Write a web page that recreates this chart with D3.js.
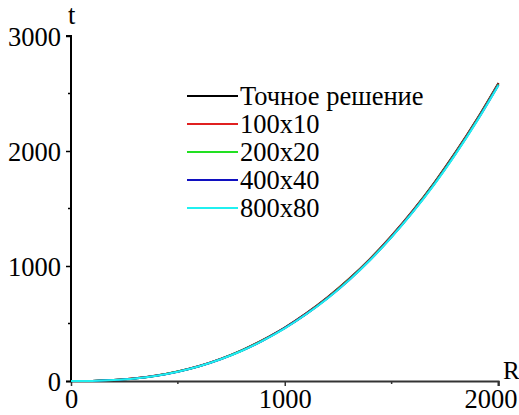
<!DOCTYPE html>
<html>
<head>
<meta charset="utf-8">
<script src="https://cdn.jsdelivr.net/npm/d3@7"></script>
<style>
  body { margin: 0; background: #fff; }
  svg { display: block; font-family: "Liberation Serif", "Times New Roman", serif; }
</style>
</head>
<body>
<svg id="chart" width="519" height="415"></svg>
<script>
// R values (x) shared by all series
const rValues = [0, 100, 200, 300, 400, 500, 600, 700, 800, 900, 1000,
                 1100, 1200, 1300, 1400, 1500, 1600, 1700, 1800, 1900, 2000];

// t values
const exact   = [0, 1, 8, 23, 47, 83, 130, 192, 268, 360, 465, 588, 728, 886, 1064, 1264, 1484, 1726, 1992, 2280, 2592];
const s100x10 = [0, 1, 8, 23, 47, 82, 130, 191, 267, 358, 463, 586, 726, 884, 1061, 1261, 1481, 1722, 1988, 2276, 2587];
const s200x20 = [0, 1, 8, 22, 46, 82, 129, 190, 265, 356, 461, 583, 722, 880, 1057, 1256, 1476, 1717, 1982, 2270, 2580];
const s400x40 = [0, 1, 8, 22, 46, 81, 128, 189, 264, 354, 459, 581, 720, 877, 1054, 1253, 1472, 1713, 1978, 2265, 2575];
const s800x80 = [0, 1, 8, 22, 46, 81, 128, 189, 263, 353, 458, 580, 718, 875, 1052, 1251, 1470, 1710, 1975, 2262, 2572];

const seriesNames  = ["Точное решение", "100x10", "200x20", "400x40", "800x80"];
const seriesValues = [exact, s100x10, s200x20, s400x40, s800x80];
const seriesColors = ["#000000", "#e02020", "#22e022", "#1010c0", "#20f0f0"];

const xTicks = [0, 1000, 2000];
const xMinor = [500, 1500];
const yTicks = [0, 1000, 2000, 3000];
const yMinor = [500, 1500, 2500];

const fontSize = 26.5;
const svg = d3.select("#chart");

// scales
const x = d3.scaleLinear().domain([0, 2000]).range([71, 498.5]);
const y = d3.scaleLinear().domain([0, 3000]).range([381, 36]);

// X axis
const xAxis = svg.append("g")
    .attr("transform", `translate(0,${y(0)})`)
    .call(d3.axisBottom(x).tickValues(xTicks).tickSize(5).tickFormat(d3.format("d")));
xAxis.select(".domain").attr("d", `M66,0.5H${x(2000)}V5`).attr("stroke", "#333").attr("stroke-width", 2);
xAxis.selectAll(".tick line").attr("stroke", "#333").attr("stroke-width", 1.5);
xAxis.selectAll(".tick text")
    .attr("font-family", "Liberation Serif").attr("font-size", fontSize).attr("fill", "#000")
    .attr("dy", "0.95em").attr("y", 2)
    .attr("dx", d => d === 2000 ? -8 : 0);

svg.append("g").selectAll("line")
    .data(xMinor).enter().append("line")
    .attr("x1", d => x(d)).attr("x2", d => x(d))
    .attr("y1", y(0)).attr("y2", y(0) + 3)
    .attr("stroke", "#333").attr("stroke-width", 1.5);

// Y axis
const yAxis = svg.append("g")
    .attr("transform", `translate(${x(0)},0)`)
    .call(d3.axisLeft(y).tickValues(yTicks).tickSize(5).tickFormat(d3.format("d")));
yAxis.select(".domain").attr("d", `M-5,${y(3000)}H0V${y(0)}`).attr("stroke", "#000").attr("stroke-width", 2);
yAxis.selectAll(".tick line").attr("stroke", "#000").attr("stroke-width", 1.5);
yAxis.selectAll(".tick text")
    .attr("font-family", "Liberation Serif").attr("font-size", fontSize).attr("fill", "#000")
    .attr("x", -10).attr("dy", "0.34em");

svg.append("g").selectAll("line")
    .data(yMinor).enter().append("line")
    .attr("x1", x(0) - 3).attr("x2", x(0))
    .attr("y1", d => y(d)).attr("y2", d => y(d))
    .attr("stroke", "#000").attr("stroke-width", 1.5);

// axis labels
svg.append("text").attr("x", 68).attr("y", 24).attr("font-size", fontSize).text("t");
svg.append("text").attr("x", 503).attr("y", 379).attr("font-size", 25).text("R");

// curves
const line = d3.line()
    .x((d, i) => x(rValues[i]))
    .y(d => y(d))
    .curve(d3.curveMonotoneX);

svg.append("g").selectAll("path")
    .data(seriesValues).enter().append("path")
    .attr("d", d => line(d))
    .attr("fill", "none")
    .attr("stroke", (d, i) => seriesColors[i])
    .attr("stroke-width", 2);

// legend
const legend = svg.append("g").selectAll("g")
    .data(seriesNames).enter().append("g")
    .attr("transform", (d, i) => `translate(187,${96 + i * 28})`);
legend.append("line")
    .attr("x1", 0).attr("x2", 51).attr("y1", 0).attr("y2", 0)
    .attr("stroke", (d, i) => seriesColors[i]).attr("stroke-width", 2);
legend.append("text")
    .attr("x", 53).attr("y", 0).attr("dy", "0.33em")
    .attr("font-size", fontSize)
    .text(d => d);
</script>
</body>
</html>
